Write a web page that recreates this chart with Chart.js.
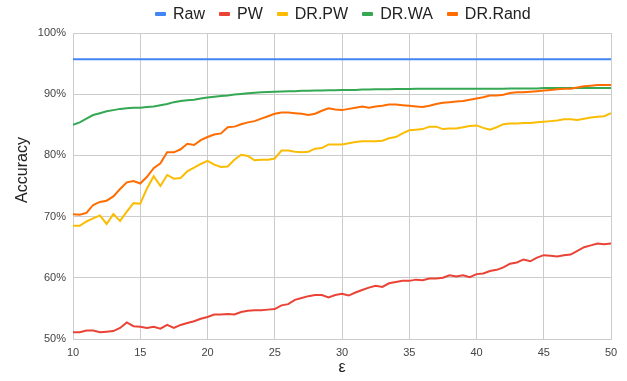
<!DOCTYPE html>
<html>
<head>
<meta charset="utf-8">
<script src="https://cdn.jsdelivr.net/npm/chart.js@4.4.1/dist/chart.umd.min.js"></script>
<style>
  html, body { margin: 0; padding: 0; background: #fff; }
  #wrap { position: relative; width: 627px; height: 381px; }
  #legend {
    position: absolute; left: 155px; top: 4px; height: 20px;
    display: flex; align-items: center; gap: 14px;
    font-family: "Liberation Sans", Arial, sans-serif; font-size: 16px; color: #222;
  }
  #legend .item { display: flex; align-items: center; white-space: nowrap; }
  #legend .mark { width: 11px; height: 4px; border-radius: 1px; margin-right: 7px; }
</style>
</head>
<body>
<div id="wrap">
  <canvas id="c" width="627" height="381"></canvas>
  <div id="legend"></div>
</div>
<script>
// privacy budget ε on the x axis
const epsilon = [
  10, 10.5, 11, 11.5, 12, 12.5, 13, 13.5, 14, 14.5,
  15, 15.5, 16, 16.5, 17, 17.5, 18, 18.5, 19, 19.5,
  20, 20.5, 21, 21.5, 22, 22.5, 23, 23.5, 24, 24.5,
  25, 25.5, 26, 26.5, 27, 27.5, 28, 28.5, 29, 29.5,
  30, 30.5, 31, 31.5, 32, 32.5, 33, 33.5, 34, 34.5,
  35, 35.5, 36, 36.5, 37, 37.5, 38, 38.5, 39, 39.5,
  40, 40.5, 41, 41.5, 42, 42.5, 43, 43.5, 44, 44.5,
  45, 45.5, 46, 46.5, 47, 47.5, 48, 48.5, 49, 49.5, 50
];

const seriesNames = ["Raw", "PW", "DR.PW", "DR.WA", "DR.Rand"];
const seriesColors = ["#4285F4", "#EA4335", "#FBBC04", "#34A853", "#FF6D01"];

// accuracy (%) per ε
const rawAcc = [
  95.7, 95.7, 95.7, 95.7, 95.7, 95.7, 95.7, 95.7, 95.7, 95.7,
  95.7, 95.7, 95.7, 95.7, 95.7, 95.7, 95.7, 95.7, 95.7, 95.7,
  95.7, 95.7, 95.7, 95.7, 95.7, 95.7, 95.7, 95.7, 95.7, 95.7,
  95.7, 95.7, 95.7, 95.7, 95.7, 95.7, 95.7, 95.7, 95.7, 95.7,
  95.7, 95.7, 95.7, 95.7, 95.7, 95.7, 95.7, 95.7, 95.7, 95.7,
  95.7, 95.7, 95.7, 95.7, 95.7, 95.7, 95.7, 95.7, 95.7, 95.7,
  95.7, 95.7, 95.7, 95.7, 95.7, 95.7, 95.7, 95.7, 95.7, 95.7,
  95.7, 95.7, 95.7, 95.7, 95.7, 95.7, 95.7, 95.7, 95.7, 95.7, 95.7
];

const pwAcc = [
  51.1, 51.1, 51.4, 51.4, 51.1, 51.2, 51.3, 51.8, 52.7, 52.1,
  52.0, 51.8, 52.0, 51.7, 52.3, 51.8, 52.3, 52.6, 52.9, 53.3,
  53.6, 54.0, 54.0, 54.1, 54.0, 54.4, 54.6, 54.7, 54.7, 54.8,
  54.9, 55.5, 55.7, 56.4, 56.7, 57.0, 57.2, 57.2, 56.8, 57.2,
  57.4, 57.1, 57.6, 58.0, 58.4, 58.7, 58.5, 59.1, 59.3, 59.5,
  59.5, 59.7, 59.6, 59.9, 59.9, 60.0, 60.4, 60.2, 60.4, 60.1,
  60.6, 60.7, 61.1, 61.3, 61.7, 62.3, 62.5, 63.0, 62.7, 63.3,
  63.7, 63.6, 63.5, 63.7, 63.8, 64.4, 65.0, 65.3, 65.6, 65.5, 65.6
];

const drPwAcc = [
  68.5, 68.5, 69.2, 69.7, 70.2, 68.8, 70.4, 69.3, 70.8, 72.2,
  72.1, 74.6, 76.6, 75.0, 76.8, 76.2, 76.3, 77.4, 78.0, 78.6,
  79.1, 78.5, 78.1, 78.2, 79.3, 80.1, 79.9, 79.2, 79.3, 79.3,
  79.5, 80.8, 80.8, 80.6, 80.5, 80.6, 81.1, 81.2, 81.8, 81.8,
  81.8, 82.0, 82.2, 82.3, 82.3, 82.3, 82.4, 82.8, 83.0, 83.6,
  84.1, 84.2, 84.3, 84.7, 84.7, 84.3, 84.4, 84.4, 84.6, 84.8,
  84.9, 84.5, 84.2, 84.6, 85.1, 85.2, 85.2, 85.3, 85.3, 85.4,
  85.5, 85.6, 85.7, 85.9, 85.9, 85.8, 86.0, 86.2, 86.3, 86.4, 86.9
];

const drWaAcc = [
  85.0, 85.4, 86.0, 86.6, 86.9, 87.2, 87.4, 87.6, 87.7, 87.8,
  87.8, 87.9, 88.0, 88.2, 88.4, 88.7, 88.9, 89.0, 89.1, 89.3,
  89.45, 89.6, 89.7, 89.8, 89.95, 90.05, 90.15, 90.25, 90.3, 90.35,
  90.4, 90.45, 90.5, 90.5, 90.55, 90.55, 90.6, 90.6, 90.65, 90.65,
  90.7, 90.7, 90.7, 90.75, 90.75, 90.8, 90.8, 90.8, 90.85, 90.85,
  90.85, 90.9, 90.9, 90.9, 90.9, 90.9, 90.9, 90.9, 90.9, 90.9,
  90.9, 90.9, 90.9, 90.9, 90.9, 90.95, 90.95, 90.95, 90.95, 90.95,
  91.0, 91.0, 91.0, 91.0, 91.0, 91.0, 91.0, 91.0, 91.0, 91.0, 91.0
];

const drRandAcc = [
  70.4, 70.3, 70.6, 71.9, 72.4, 72.6, 73.3, 74.5, 75.6, 75.8,
  75.4, 76.5, 77.9, 78.7, 80.5, 80.5, 81.0, 81.9, 81.7, 82.5,
  83.0, 83.4, 83.6, 84.6, 84.7, 85.1, 85.4, 85.6, 86.0, 86.4,
  86.8, 87.0, 87.0, 86.9, 86.8, 86.6, 86.8, 87.3, 87.7, 87.5,
  87.4, 87.6, 87.8, 88.0, 87.8, 88.0, 88.1, 88.3, 88.3, 88.2,
  88.1, 88.0, 87.9, 88.1, 88.4, 88.6, 88.7, 88.8, 88.9, 89.1,
  89.3, 89.5, 89.8, 89.8, 89.9, 90.2, 90.3, 90.3, 90.4, 90.5,
  90.6, 90.7, 90.8, 90.9, 90.9, 91.1, 91.3, 91.4, 91.5, 91.5, 91.5
];

const yTicks = [50, 60, 70, 80, 90, 100];
const xTicks = [10, 15, 20, 25, 30, 35, 40, 45, 50];
const yTitle = 'Accuracy';
const xTitle = 'ε';

const allSeries = [rawAcc, pwAcc, drPwAcc, drWaAcc, drRandAcc];

const FONT = "'Liberation Sans', Arial, sans-serif";

const datasets = allSeries.map((vals, i) => ({
  label: seriesNames[i],
  data: vals.map((v, k) => ({ x: epsilon[k], y: v })),
  borderColor: seriesColors[i],
  backgroundColor: seriesColors[i],
  borderWidth: 2,
  pointRadius: 0,
  tension: 0,
  fill: false,
  order: allSeries.length - i
}));

// HTML legend row
const legendEl = document.getElementById('legend');
seriesNames.forEach((name, i) => {
  const item = document.createElement('div');
  item.className = 'item';
  const mark = document.createElement('span');
  mark.className = 'mark';
  mark.style.background = seriesColors[i];
  const txt = document.createElement('span');
  txt.textContent = name;
  item.appendChild(mark);
  item.appendChild(txt);
  legendEl.appendChild(item);
});

// vertical axis title, sitting a little above the plot's midline
const yTitlePlugin = {
  id: 'yTitle',
  afterDraw(chart) {
    const ctx = chart.ctx;
    ctx.save();
    ctx.translate(23, 170);
    ctx.rotate(-Math.PI / 2);
    ctx.font = "16px " + FONT;
    ctx.fillStyle = '#222';
    ctx.textAlign = 'center';
    ctx.textBaseline = 'middle';
    ctx.fillText(yTitle, 0, 0);
    ctx.restore();
  }
};

new Chart(document.getElementById('c'), {
  type: 'line',
  data: { datasets },
  plugins: [yTitlePlugin],
  options: {
    responsive: false,
    animation: false,
    layout: { padding: { left: 0, right: 16, top: 33, bottom: 0 } },
    plugins: { legend: { display: false }, tooltip: { enabled: false } },
    scales: {
      x: {
        type: 'linear',
        min: 10, max: 50,
        afterFit: s => { s.height = 42; },
        afterBuildTicks: s => { s.ticks = xTicks.map(v => ({ value: v })); },
        grid: { color: '#cccccc', lineWidth: 1, drawTicks: false },
        border: { color: '#cccccc' },
        ticks: { padding: 7, color: '#444', font: { family: FONT, size: 11 }, maxRotation: 0 },
        title: { display: true, text: xTitle, color: '#222', font: { family: FONT, size: 16 }, padding: { top: 0, bottom: 4 } }
      },
      y: {
        min: 50, max: 100,
        afterFit: s => { s.width = 73; },
        afterBuildTicks: s => { s.ticks = yTicks.map(v => ({ value: v })); },
        grid: { color: '#cccccc', lineWidth: 1, drawTicks: false },
        border: { color: '#cccccc' },
        ticks: { padding: 7, color: '#444', font: { family: FONT, size: 11 }, callback: v => v + '%' }
      }
    }
  }
});
</script>
</body>
</html>
